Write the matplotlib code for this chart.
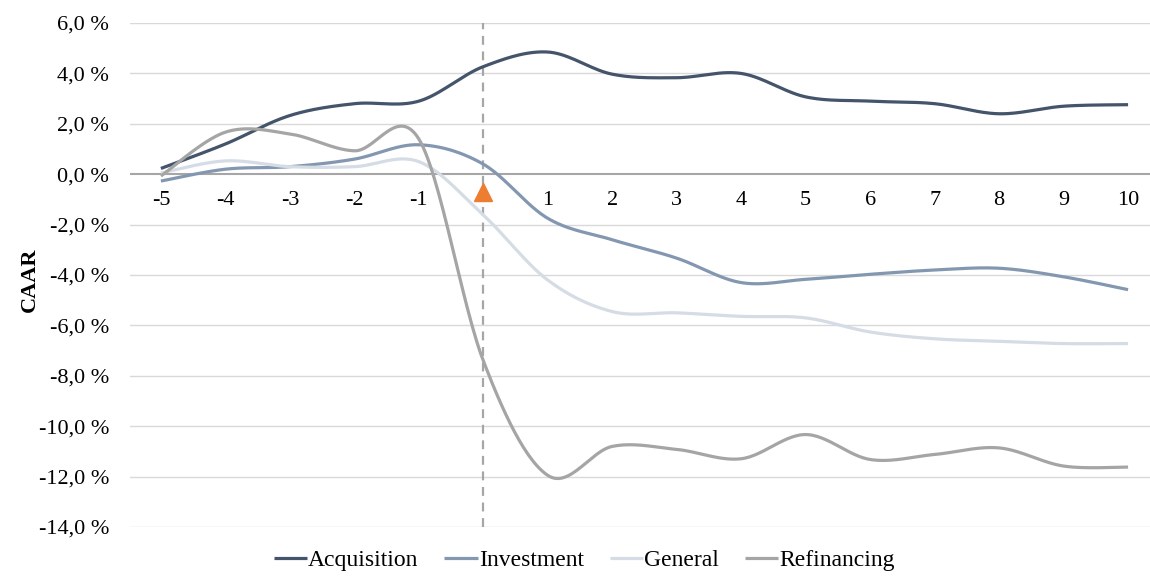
import numpy as np
import matplotlib
matplotlib.use('Agg')
import matplotlib.pyplot as plt

plt.rcParams['font.family'] = ['Liberation Serif', 'DejaVu Serif']

days = [-5, -4, -3, -2, -1, 0, 1, 2, 3, 4, 5, 6, 7, 8, 9, 10]
acquisition = [0.23, 1.2, 2.33, 2.8, 2.9, 4.27, 4.85, 3.97, 3.83, 4.0, 3.07, 2.9, 2.8, 2.4, 2.7, 2.76]
investment = [-0.27, 0.2, 0.3, 0.6, 1.17, 0.4, -1.75, -2.6, -3.33, -4.3, -4.17, -3.97, -3.8, -3.73, -4.07, -4.58]
general = [0.05, 0.53, 0.3, 0.3, 0.5, -1.62, -4.2, -5.45, -5.5, -5.64, -5.7, -6.26, -6.53, -6.63, -6.72, -6.72]
refinancing = [-0.07, 1.67, 1.6, 0.93, 1.4, -7.4, -11.95, -10.8, -10.92, -11.29, -10.33, -11.32, -11.12, -10.86, -11.58, -11.62]

series_names = ['Acquisition', 'Investment', 'General', 'Refinancing']
series_colors = ['#44546A', '#8497B0', '#D6DCE5', '#A5A5A5']
yticks = list(range(-14, 7, 2))
event_day = 0
event_marker_y = -0.7


def smooth(x, y, n=30):
    # excel style smoothed line (catmull-rom bezier)
    x = np.asarray(x, float)
    y = np.asarray(y, float)
    px = np.concatenate([[x[0]], x, [x[-1]]])
    py = np.concatenate([[y[0]], y, [y[-1]]])
    xs, ys = [], []
    t = np.linspace(0, 1, n)
    for i in range(1, len(px) - 2):
        x0, y0 = px[i], py[i]
        x3, y3 = px[i + 1], py[i + 1]
        x1 = x0 + (px[i + 1] - px[i - 1]) / 6
        y1 = y0 + (py[i + 1] - py[i - 1]) / 6
        x2 = x3 - (px[i + 2] - px[i]) / 6
        y2 = y3 - (py[i + 2] - py[i]) / 6
        b0 = (1 - t) ** 3
        b1 = 3 * (1 - t) ** 2 * t
        b2 = 3 * (1 - t) * t ** 2
        b3 = t ** 3
        xs.extend(b0 * x0 + b1 * x1 + b2 * x2 + b3 * x3)
        ys.extend(b0 * y0 + b1 * y1 + b2 * y2 + b3 * y3)
    return xs, ys


fig = plt.figure(figsize=(11.5, 5.76), dpi=100)
ax = fig.add_axes([0.113, 0.085, 0.887, 0.875])

for v in yticks:
    if v != 0:
        ax.axhline(v, color='#D9D9D9', lw=1, zorder=0)
ax.axhline(0, color='#A6A6A6', lw=1.5, zorder=1)

for name, vals, col in zip(series_names, [acquisition, investment, general, refinancing], series_colors):
    sx, sy = smooth(days, vals)
    ax.plot(sx, sy, color=col, lw=2.3, label=name, zorder=3, solid_capstyle='butt')

ax.axvline(event_day, color='#A6A6A6', lw=1.6, ls=(0, (4, 3)), zorder=2)
ax.plot([event_day], [event_marker_y], marker='^', color='#ED7D31', markersize=13, zorder=4)

ax.set_xlim(-5.48, 10.34)
ax.set_ylim(-14, 6)
ax.set_yticks(yticks)
ax.yaxis.set_major_formatter(plt.FuncFormatter(lambda v, p: ('%.1f %%' % v).replace('.', ',')))
ax.set_xticks([])
for d in days:
    if d != event_day:
        ax.text(d, -1.05, str(d), ha='center', va='center', fontsize=16)

ax.tick_params(axis='y', length=0, labelsize=16, pad=15)
for s in ax.spines.values():
    s.set_visible(False)

ax.set_ylabel('CAAR', fontsize=16, fontweight='bold')
ax.yaxis.set_label_coords(-0.088, 0.49)

fig.legend(loc='lower center', bbox_to_anchor=(0.508, -0.028), ncol=4, frameon=False,
           fontsize=17, handlelength=1.4, handletextpad=0.05, columnspacing=1.1)

fig.savefig('out.png', dpi=100)
